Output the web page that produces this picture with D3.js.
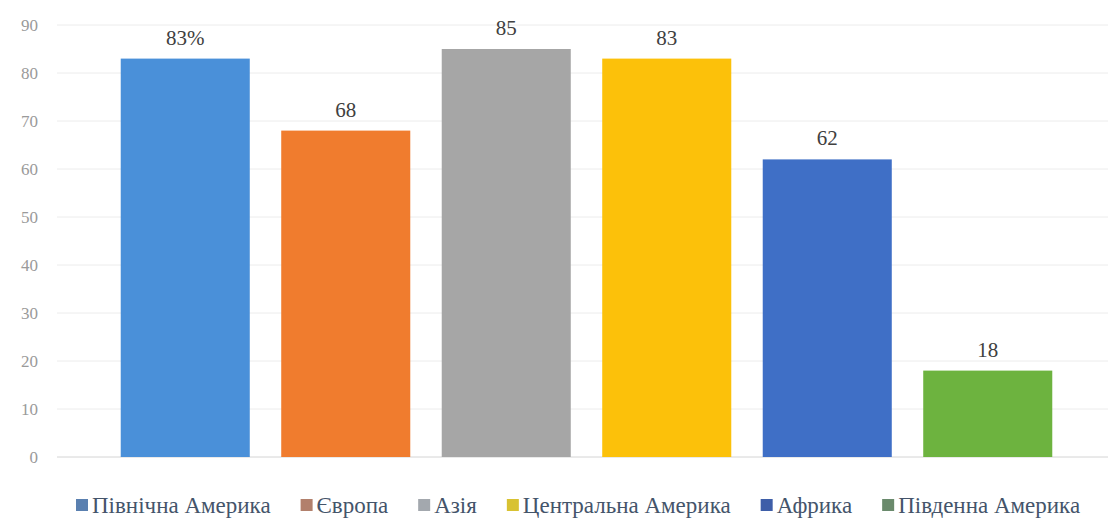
<!DOCTYPE html>
<html lang="uk">
<head>
<meta charset="utf-8">
<title>Chart</title>
<script src="https://d3js.org/d3.v7.min.js"></script>
<style>
  body { margin: 0; background: #fff; }
  svg text { font-family: "Liberation Serif", Tinos, "Times New Roman", serif; }
</style>
</head>
<body>
<script>
// data
var regions = ["Північна Америка", "Європа", "Азія", "Центральна Америка", "Африка", "Південна Америка"];
var values = [83, 68, 85, 83, 62, 18];
var labels = ["83%", "68", "85", "83", "62", "18"];
var yTicks = [0, 10, 20, 30, 40, 50, 60, 70, 80, 90];

var barColors = ["#4a90d9", "#f07c2e", "#a6a6a6", "#fcc10a", "#3f6fc6", "#6db33f"];
var keyColors = ["#5a80b0", "#b2806c", "#a3a8ae", "#d8c232", "#3e5ea8", "#6a8a6c"];

var W = 1108, H = 522;
var svg = d3.select("body").append("svg").attr("width", W).attr("height", H);

var x = d3.scaleBand().domain(regions).range([105, 1068]).paddingInner(0.196).paddingOuter(0.098);
var y = d3.scaleLinear().domain([0, 90]).range([457, 25]);

// gridlines
svg.append("g").selectAll("line").data(yTicks).enter().append("line")
  .attr("x1", 57).attr("x2", W)
  .attr("y1", function(d) { return y(d); }).attr("y2", function(d) { return y(d); })
  .attr("stroke", function(d) { return d === 0 ? "#d4d4d4" : "#ececec"; })
  .attr("stroke-width", 1);

// y axis labels
var yAxis = d3.axisLeft(y).tickValues(yTicks).tickSize(0).tickPadding(0);
var ga = svg.append("g").attr("transform", "translate(38,0)").call(yAxis);
ga.select(".domain").remove();
ga.attr("font-family", null);
ga.selectAll("text").attr("fill", "#9a9a9a").attr("font-size", "17px");

// bars
svg.selectAll(".bar").data(values).enter().append("rect")
  .attr("class", "bar")
  .attr("x", function(d, i) { return x(regions[i]); })
  .attr("width", x.bandwidth())
  .attr("y", function(d) { return y(d); })
  .attr("height", function(d) { return y(0) - y(d); })
  .attr("fill", function(d, i) { return barColors[i]; });

// value labels
svg.selectAll(".lbl").data(values).enter().append("text")
  .attr("class", "lbl")
  .attr("x", function(d, i) { return x(regions[i]) + x.bandwidth() / 2; })
  .attr("y", function(d) { return y(d) - 14; })
  .attr("text-anchor", "middle")
  .attr("font-size", "21px")
  .attr("fill", "#404040")
  .text(function(d, i) { return labels[i]; });

// legend
var leg = svg.append("g").attr("transform", "translate(76,513)");
var lx = 0;
regions.forEach(function(r, i) {
  var g = leg.append("g").attr("transform", "translate(" + lx + ",0)");
  g.append("rect").attr("x", 0).attr("y", -14).attr("width", 12).attr("height", 12).attr("fill", keyColors[i]);
  var t = g.append("text").attr("x", 16).attr("y", 0).attr("font-size", "23px").attr("fill", "#44546a").text(r);
  lx += 16 + t.node().getComputedTextLength() + 30;
});
</script>
</body>
</html>
